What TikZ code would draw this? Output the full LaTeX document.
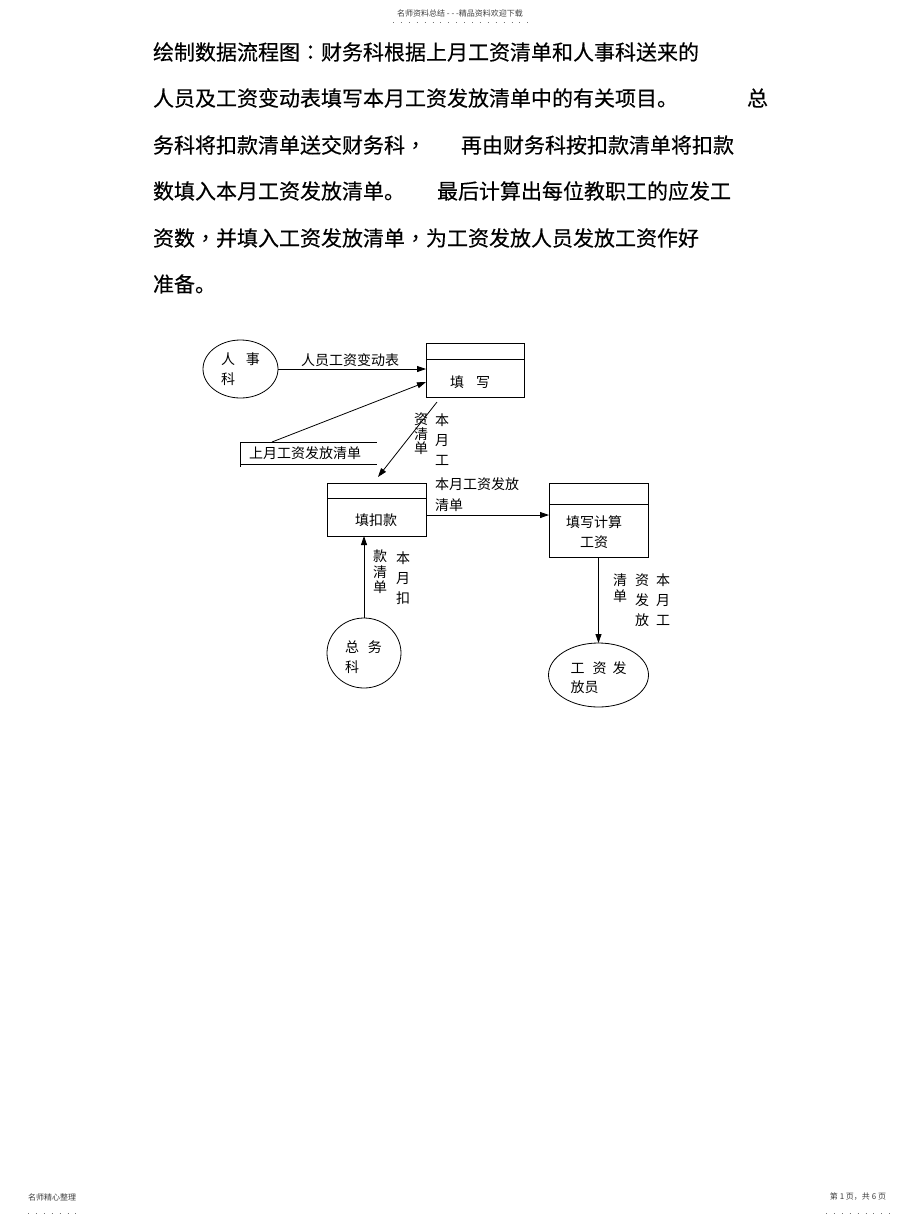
\documentclass[tikz,border=0pt]{standalone}
\usepackage{fontspec}
\setmainfont{Noto Sans CJK SC}
\newfontfamily\bodyfont[FakeBold=0.3]{Noto Sans CJK SC}
\newfontfamily\puncfont[FakeBold=0.3]{Noto Sans CJK TC}
\newcommand{\pc}[1]{{\puncfont #1}}
\usetikzlibrary{arrows.meta,shapes.geometric}
\begin{document}
\begin{tikzpicture}[x=1pt,y=-1pt,
  every node/.style={inner sep=0pt, outer sep=0pt},
  body/.style={anchor=west, font=\bodyfont\fontsize{21}{21}\selectfont},
  small/.style={font=\fontsize{8}{8}\selectfont, text=black!75},
  lab/.style={font=\fontsize{14}{14}\selectfont},
  vlab/.style={font=\fontsize{14}{20}\selectfont, align=center},
  procbox/.style={draw, line width=0.8pt, rectangle},
  extent/.style={draw, line width=0.8pt, ellipse},
  thinline/.style={line width=0.8pt},
  flow/.style={line width=0.8pt, -{Triangle[length=9pt,width=6pt]}},
  dotline/.style={line width=0.9pt, black!55, dash pattern=on 0.9pt off 7pt}
]
\fill[white] (0,0) rectangle (920,1221);
\useasboundingbox (0,0) rectangle (920,1221);

% header / footer
\node[small] (hd) at (460,13) {名师资料总结 - - -精品资料欢迎下载};
\coordinate (hdl) at (393,22); \coordinate (hdr) at (530,22);
\draw[dotline] (hdl) -- (hdr);
\node[small, anchor=west] (ftl) at (28,1197) {名师精心整理};
\coordinate (fl1) at (28,1213); \coordinate (fl2) at (76,1213);
\draw[dotline] (fl1) -- (fl2);
\node[small, anchor=east] (ftr) at (886,1197) {第 1 页，共 6 页};
\coordinate (fr1) at (826,1213); \coordinate (fr2) at (892,1213);
\draw[dotline] (fr1) -- (fr2);

% body text
\node[body] (p1) at (153,52) {绘制数据流程图\pc{：}财务科根据上月工资清单和人事科送来的};
\node[body] (p2) at (153,98) {人员及工资变动表填写本月工资发放清单中的有关项目。};
\node[body] (p2b) at (747,98) {总};
\node[body] (p3) at (153,145) {务科将扣款清单送交财务科\pc{，}};
\node[body] (p3b) at (461,145) {再由财务科按扣款清单将扣款};
\node[body] (p4) at (153,191) {数填入本月工资发放清单。};
\node[body] (p4b) at (437,191) {最后计算出每位教职工的应发工};
\node[body] (p5) at (153,238) {资数\pc{，}并填入工资发放清单\pc{，}为工资发放人员发放工资作好};
\node[body] (p6) at (153,284) {准备。};

% external entities
\node[extent, minimum width=75pt, minimum height=58pt] (rsk) at (240.5,369) {};
\node[vlab, align=left] (rskt) at (240.5,369) {人\hspace{11pt}事\\科};
\node[extent, minimum width=74pt, minimum height=70pt] (zw) at (364,653) {};
\node[vlab, align=left] (zwt) at (363.5,657) {总\hspace{9pt}务\\科};
\node[extent, minimum width=100pt, minimum height=64pt] (fy) at (598.5,675) {};
\node[font=\fontsize{14}{19}\selectfont, align=left] (fyt) at (598.5,677.5) {工\hspace{8pt}资\hspace{6pt}发\\放员};

% processes
\node[procbox, minimum width=98pt, minimum height=54pt] (tx) at (475,370) {};
\draw[thinline] ([yshift=-16pt]tx.north west) -- ([yshift=-16pt]tx.north east);
\node[lab] (txt) at (470,382) {填\hspace{12pt}写};

\node[procbox, minimum width=99pt, minimum height=53pt] (tk) at (376.5,509.5) {};
\draw[thinline] ([yshift=-15pt]tk.north west) -- ([yshift=-15pt]tk.north east);
\node[lab] (tkt) at (376,520) {填扣款};

\node[procbox, minimum width=99pt, minimum height=74pt] (tj) at (598.5,520) {};
\draw[thinline] ([yshift=-21pt]tj.north west) -- ([yshift=-21pt]tj.north east);
\node[vlab] (tjt) at (594,532) {填写计算\\工资};

% data store
\coordinate (dsa) at (240,442); \coordinate (dsb) at (377,442);
\coordinate (dsc) at (240,464); \coordinate (dsd) at (377,464);
\coordinate (dse) at (240,467);
\draw[thinline] (dsa) -- (dsb);
\draw[thinline] (dsc) -- (dsd);
\draw[thinline] (dsa) -- (dse);
\node[lab] (ds) at (305,453) {上月工资发放清单};

% flows
\draw[flow] (rsk.east) -- (tx.west |- rsk.east);
\node[lab] (l1) at (350,360) {人员工资变动表};

\coordinate (dstop) at (272,442);
\draw[flow] (dstop) -- ([yshift=-12pt]tx.west);

\coordinate (f3s) at (437,402); \coordinate (f3e) at (378,477);
\draw[flow] (f3s) -- (f3e);
\node[font=\fontsize{14}{14.5}\selectfont, align=center] (l3a) at (421,434) {资\\清\\单};
\node[vlab] (l3b) at (442,440) {本\\月\\工};

\coordinate (tkout) at ([yshift=-5.5pt]tk.east);
\draw[flow] (tkout) -- (tj.west |- tkout);
\node[lab, anchor=west] (l4a) at (435,484) {本月工资发放};
\node[lab, anchor=west] (l4b) at (435,505) {清单};

\draw[flow] (zw.north) -- (zw.north |- tk.south);
\node[font=\fontsize{14}{15.5}\selectfont, align=center] (l5a) at (380,572) {款\\清\\单};
\node[vlab] (l5b) at (403,578) {本\\月\\扣};

\draw[flow] (tj.south) -- (fy.north);
\node[font=\fontsize{14}{16}\selectfont, align=center] (l6a) at (620,588) {清\\单};
\node[vlab] (l6b) at (642,600) {资\\发\\放};
\node[vlab] (l6c) at (663,600) {本\\月\\工};
\end{tikzpicture}
\end{document}
